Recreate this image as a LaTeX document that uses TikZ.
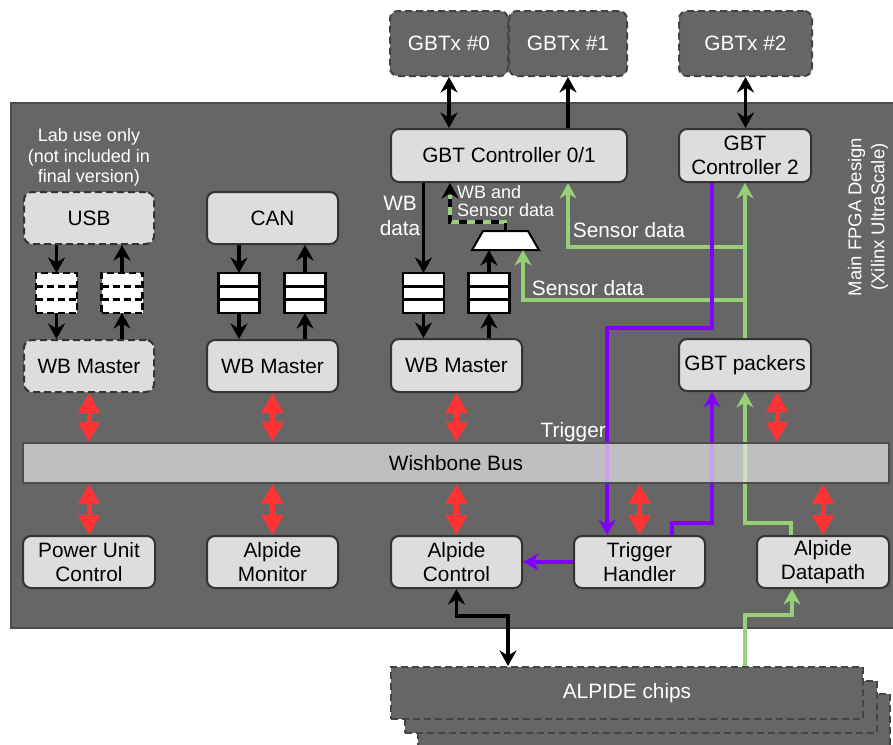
\documentclass[tikz,border=0pt]{standalone}
\usepackage{fontspec}
\setmainfont{Liberation Sans}
\usetikzlibrary{arrows.meta,calc}

\definecolor{fpgabg}{HTML}{666666}
\definecolor{fpgaedge}{HTML}{4D4D4D}
\definecolor{extedge}{HTML}{444444}
\definecolor{boxfill}{HTML}{DDDDDD}
\definecolor{boxedge}{HTML}{333333}
\definecolor{busfill}{HTML}{E6E6E6}
\definecolor{trigviolet}{HTML}{7F00FF}
\definecolor{sensgreen}{HTML}{97D077}
\definecolor{busred}{HTML}{FF3333}

% FIFO symbol: box with two dividers
\newcommand\fifobox[4]{%
  \node[fifo,#4] (#1) at (#2,#3) {};
  \draw[line width=2.5pt,#4]
    ($(#1.north west)!1/3!(#1.south west)$) -- ($(#1.north east)!1/3!(#1.south east)$)
    ($(#1.north west)!2/3!(#1.south west)$) -- ($(#1.north east)!2/3!(#1.south east)$);
}

\begin{document}
\begin{tikzpicture}[x=1pt,y=-1pt,
  every node/.style={font=\fontsize{20.8}{23.5}\selectfont},
  blk/.style={rounded corners=8pt, fill=boxfill, draw=boxedge, line width=2pt,
    text=black, align=center, inner sep=0pt},
  labonly/.style={dashed, dash pattern=on 7pt off 4pt},
  gbtx/.style={rounded corners=8pt, fill=fpgabg, draw=extedge, line width=2pt,
    dashed, dash pattern=on 7pt off 4pt, text=white, inner sep=0pt,
    minimum height=65pt},
  chip/.style={fill=fpgabg, draw=extedge, line width=2pt, dashed,
    dash pattern=on 7pt off 4pt, text=white, minimum width=472pt, minimum height=52pt},
  fifo/.style={draw=black, fill=white, line width=2.5pt, minimum width=41pt,
    minimum height=40pt, inner sep=0pt, outer sep=0pt},
  lbl/.style={text=white, inner sep=0pt},
  tipshape/.tip={Stealth[length=15.5pt,width=17pt,inset=5pt]},
  blkarr/.style={draw=black, line width=3.2pt, line join=miter, -tipshape},
  blkdbl/.style={draw=black, line width=3.2pt, line join=miter, tipshape-tipshape},
  grn/.style={draw=sensgreen, line width=3.2pt, line join=miter},
  grnarr/.style={grn, -tipshape},
  pur/.style={draw=trigviolet, line width=3.2pt, line join=miter},
  purarr/.style={pur, -tipshape},
  red2/.style={draw=busred, line width=5pt,
    {Triangle[length=20pt,width=21pt]}-{Triangle[length=20pt,width=21pt]}},
]
\useasboundingbox (0,0) rectangle (893,744);

% FPGA area
\node[fill=fpgabg, draw=fpgaedge, line width=2pt, anchor=north west,
  minimum width=900pt, minimum height=525pt, inner sep=0pt] (fpga) at (10,102) {};
\node[lbl, rotate=90, align=center, font=\fontsize{18.5}{23}\selectfont]
  (fpgatitle) at (868,217) {Main FPGA Design\\(Xilinx UltraScale)};

% external GBTx links
\node[gbtx, minimum width=118pt] (gbtx0) at (449,43.5) {GBTx \#0};
\node[gbtx, minimum width=118pt] (gbtx1) at (568,43.5) {GBTx \#1};
\node[gbtx, minimum width=133pt] (gbtx2) at (745.5,43.5) {GBTx \#2};

% ALPIDE chip stack
\node[chip] (chipsC) at (653.5,719.5) {};
\node[chip] (chipsB) at (640.5,706.5) {};
\node[chip] (chips) at (627,693) {ALPIDE chips};

% controllers
\node[blk, minimum width=236pt, minimum height=53pt] (gbtc01) at (509,155.5) {GBT Controller 0/1};
\node[blk, minimum width=132pt, minimum height=53pt] (gbtc2) at (745,155.5) {GBT\\Controller 2};

% interfaces
\node[lbl, align=center, font=\fontsize{18}{20.5}\selectfont] (labnote) at (89,157.5)
  {Lab use only\\(not included in\\final version)};
\node[blk, labonly, minimum width=130pt, minimum height=52pt] (usb) at (89,218) {USB};
\node[blk, minimum width=131pt, minimum height=52pt] (can) at (272.5,218) {CAN};

% WB masters and packers
\node[blk, labonly, minimum width=130pt, minimum height=52pt] (wbm1) at (89,366) {WB Master};
\node[blk, minimum width=131pt, minimum height=52pt] (wbm2) at (272.5,366) {WB Master};
\node[blk, minimum width=131pt, minimum height=53pt] (wbm3) at (456.5,365.5) {WB Master};
\node[blk, minimum width=132pt, minimum height=52pt] (pack) at (745,365) {GBT packers};

% slaves
\node[blk, minimum width=132pt, minimum height=52pt] (puc) at (89,562) {Power Unit\\Control};
\node[blk, minimum width=131pt, minimum height=52pt] (amon) at (272.5,562) {Alpide\\Monitor};
\node[blk, minimum width=131pt, minimum height=52pt] (actl) at (456.5,562) {Alpide\\Control};
\node[blk, minimum width=131pt, minimum height=52pt] (trig) at (639.5,562) {Trigger\\Handler};
\node[blk, minimum width=132pt, minimum height=52pt] (adp) at (823,562) {Alpide\\Datapath};

% FIFOs
\fifobox{f1}{56.5}{293}{labonly}
\fifobox{f2}{122}{293}{labonly}
\fifobox{f3}{239}{293}{}
\fifobox{f4}{305}{293}{}
\fifobox{f5}{423.5}{293}{}
\fifobox{f6}{489}{293}{}

% multiplexer
\coordinate (muxb) at (505.5,250);
\coordinate (muxt) at (505.5,231);
\draw[fill=white, draw=black, line width=2pt, line join=miter]
  ($(muxb)+(-33.5,0)$) -- ($(muxb)+(33.5,0)$) -- ($(muxt)+(22.5,0)$) -- ($(muxt)+(-22.5,0)$) -- cycle;

% GBTx connections
\draw[blkdbl] (gbtx0.south) -- (gbtx0.south |- gbtc01.north);
\draw[blkarr] (gbtx1.south |- gbtc01.north) -- (gbtx1.south);
\draw[blkdbl] (gbtx2.south) -- (gbtx2.south |- gbtc2.north);

% FIFO connections
\draw[blkarr] (f1 |- usb.south) -- (f1.north);
\draw[blkarr] (f1.south) -- (f1 |- wbm1.north);
\draw[blkarr] (f2 |- wbm1.north) -- (f2.south);
\draw[blkarr] (f2.north) -- (f2 |- usb.south);
\draw[blkarr] (f3 |- can.south) -- (f3.north);
\draw[blkarr] (f3.south) -- (f3 |- wbm2.north);
\draw[blkarr] (f4 |- wbm2.north) -- (f4.south);
\draw[blkarr] (f4.north) -- (f4 |- can.south);
\draw[blkarr] (f5 |- gbtc01.south) -- (f5.north);
\draw[blkarr] (f5.south) -- (f5 |- wbm3.north);
\draw[blkarr] (f6 |- wbm3.north) -- (f6.south);
\draw[blkarr] (f6.north) -- (f6 |- muxb);

\node[lbl, align=center, font=\fontsize{20.8}{25}\selectfont] (wbdata) at (400,216) {WB\\data};

% mux output: mixed WB and sensor data
\coordinate (c01w) at ($(gbtc01.south west)+(60,0)$);
\draw[grn, shorten >=12pt] (muxt) -- ++(0,-9) -| (c01w);
\draw[blkarr, dash pattern=on 8pt off 8pt] (muxt) -- ++(0,-9) -| (c01w);
\node[lbl, anchor=west, align=left, font=\fontsize{18}{18.5}\selectfont] (wbsens) at (457,201)
  {WB and\\Sensor data};

% sensor data paths
\coordinate (j1) at (745,247);
\coordinate (j2) at (745,300);
\coordinate (c01g) at ($(gbtc01.south west)+(178,0)$);
\coordinate (muxg) at ($(muxb)+(17.5,0)$);
\draw[grnarr] (pack.north) -- (gbtc2.south);
\draw[grnarr] (j1) -| (c01g);
\draw[grnarr] (j2) -| (muxg);
\node[lbl] (sens1) at (629,230) {Sensor data};
\node[lbl] (sens2) at (588,288) {Sensor data};

% trigger paths
\coordinate (g2out) at ($(gbtc2.south west)+(34,0)$);
\coordinate (trigin) at ($(trig.north west)+(34,0)$);
\coordinate (trigout) at ($(trig.north west)+(99,0)$);
\coordinate (packtrig) at ($(pack.south west)+(34,0)$);
\draw[purarr] (g2out) -- ++(0,145) -| (trigin);
\draw[purarr] (trigout) -- ++(0,-12) -| (packtrig);
\draw[purarr] (trig.west) -- (actl.east);
\node[lbl, anchor=east] (triglbl) at (606,432) {Trigger};

% datapath to packers
\coordinate (adpout) at ($(adp.north west)+(35,0)$);
\draw[grnarr] (adpout) -- ++(0,-12) -| (pack.south);

% chip links
\coordinate (chipctl) at ($(chips.north west)+(118,0)$);
\coordinate (chipdata) at ($(chips.north west)+(355,0)$);
\coordinate (adpin) at ($(adp.south west)+(36,0)$);
\draw[blkdbl] (actl.south) -- ++(0,27) -| (chipctl);
\draw[grnarr] (chipdata) -- ++(0,-51) -| (adpin);

% Wishbone bus
\node[fill=busfill, fill opacity=0.7, draw=fpgaedge, draw opacity=1, line width=2pt,
  minimum width=866pt, minimum height=40pt, inner sep=0pt, text opacity=1] (bus) at (456,463) {};
\node[text=black] (buslbl) at (bus) {Wishbone Bus};

% bus attachments
\coordinate (packbus) at ($(pack.south west)+(99,0)$);
\draw[red2] (wbm1.south) -- (wbm1.south |- bus.north);
\draw[red2] (wbm2.south) -- (wbm2.south |- bus.north);
\draw[red2] (wbm3.south) -- (wbm3.south |- bus.north);
\draw[red2] (packbus) -- (packbus |- bus.north);
\draw[red2] (bus.south -| puc) -- (puc.north);
\draw[red2] (bus.south -| amon) -- (amon.north);
\draw[red2] (bus.south -| actl) -- (actl.north);
\draw[red2] (bus.south -| trig) -- (trig.north);
\draw[red2] (bus.south -| adp) -- (adp.north);
\end{tikzpicture}
\end{document}
